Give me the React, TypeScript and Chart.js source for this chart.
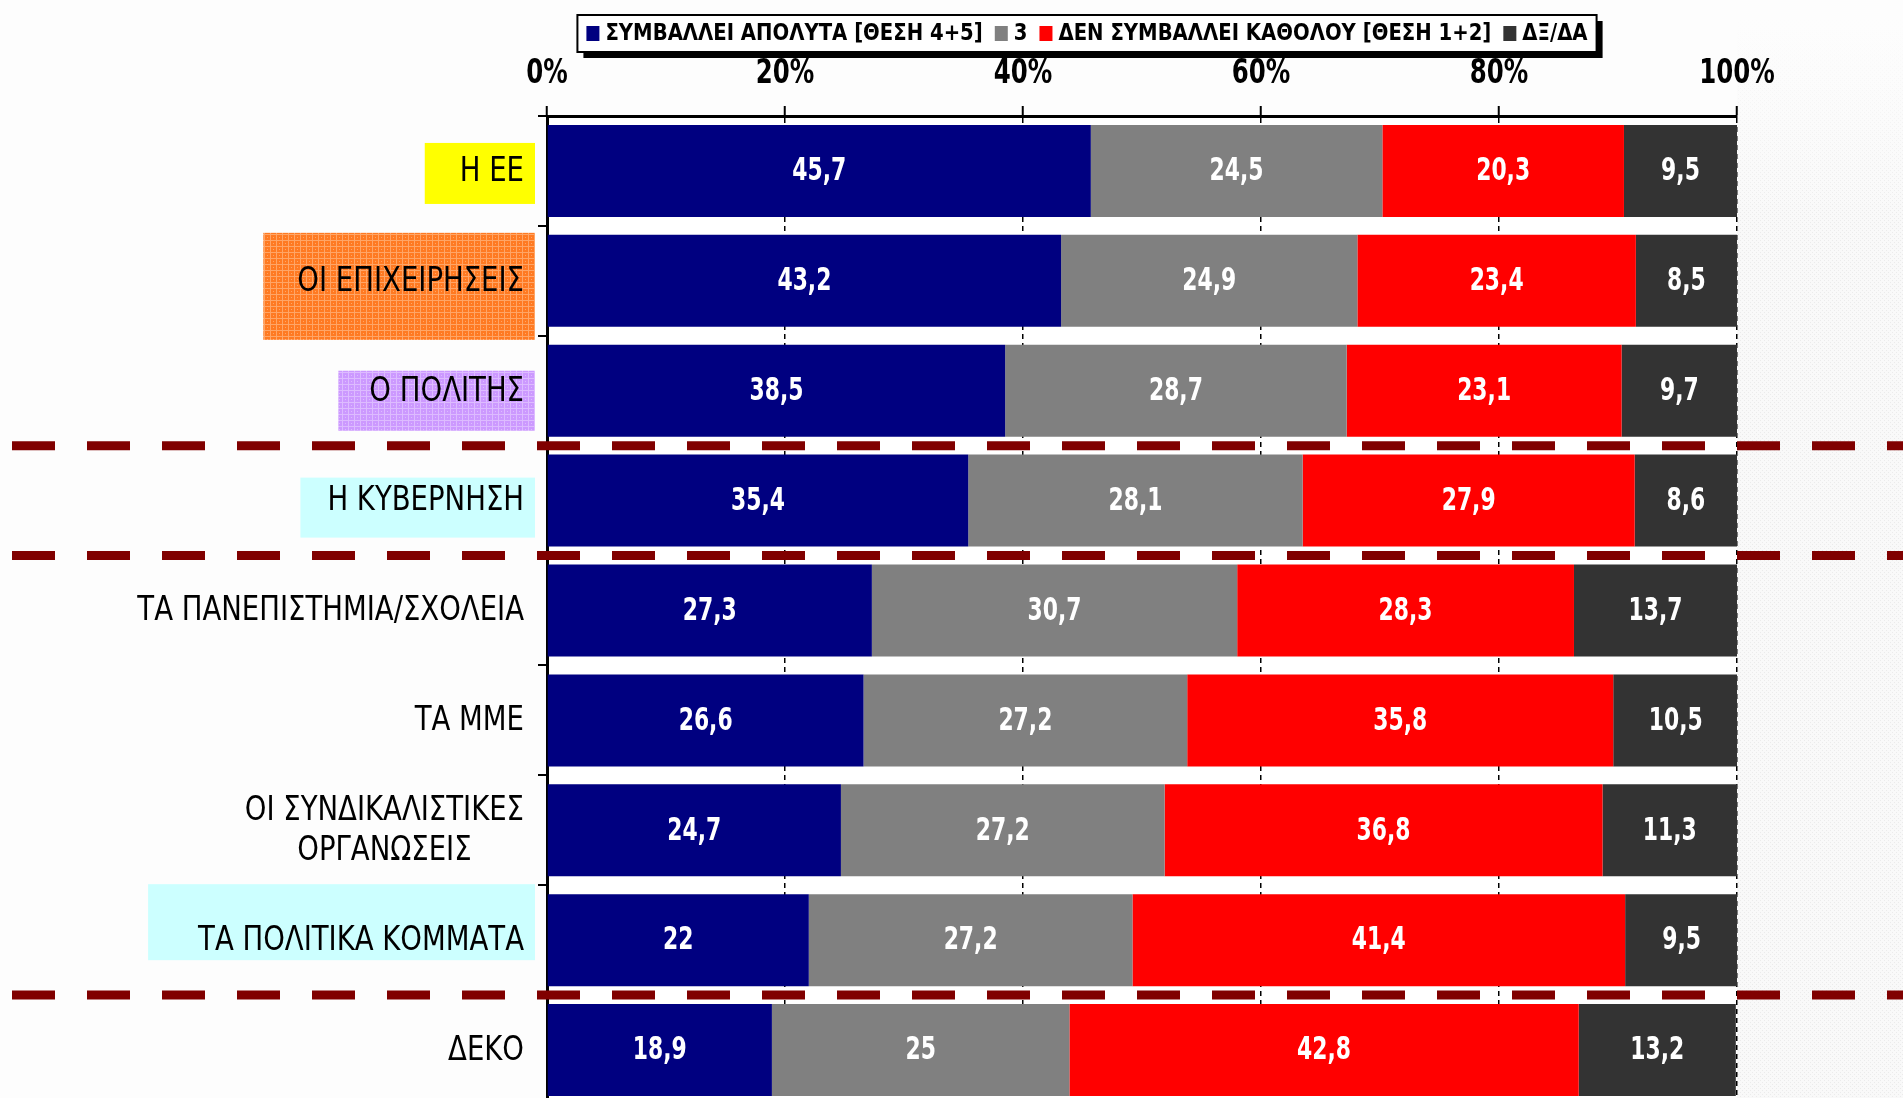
import { useEffect, useRef } from "react";
import { Chart, registerables } from "chart.js";

Chart.register(...registerables);

const FONT = "'DejaVu Sans Condensed', 'DejaVu Sans', sans-serif";

const categories: (string | string[])[] = [
  "Η ΕΕ",
  "ΟΙ ΕΠΙΧΕΙΡΗΣΕΙΣ",
  "Ο ΠΟΛΙΤΗΣ",
  "Η ΚΥΒΕΡΝΗΣΗ",
  "ΤΑ ΠΑΝΕΠΙΣΤΗΜΙΑ/ΣΧΟΛΕΙΑ",
  "ΤΑ ΜΜΕ",
  ["ΟΙ ΣΥΝΔΙΚΑΛΙΣΤΙΚΕΣ", "ΟΡΓΑΝΩΣΕΙΣ"],
  "ΤΑ ΠΟΛΙΤΙΚΑ ΚΟΜΜΑΤΑ",
  "ΔΕΚΟ",
];

const seriesNames = [
  "ΣΥΜΒΑΛΛΕΙ ΑΠΟΛΥΤΑ [ΘΕΣΗ 4+5]",
  "3",
  "ΔΕΝ ΣΥΜΒΑΛΛΕΙ ΚΑΘΟΛΟΥ [ΘΕΣΗ 1+2]",
  "ΔΞ/ΔΑ",
];

const contributesFully = [45.7, 43.2, 38.5, 35.4, 27.3, 26.6, 24.7, 22, 18.9];
const neutral = [24.5, 24.9, 28.7, 28.1, 30.7, 27.2, 27.2, 27.2, 25];
const notAtAll = [20.3, 23.4, 23.1, 27.9, 28.3, 35.8, 36.8, 41.4, 42.8];
const dontKnow = [9.5, 8.5, 9.7, 8.6, 13.7, 10.5, 11.3, 9.5, 13.2];

const xTicks = [0, 20, 40, 60, 80, 100];

// separators are drawn below these category indexes
const separatorsAfter = [2, 3, 7];

const seriesColors = ["#000080", "#808080", "#FF0000", "#333333"];

// highlight boxes behind some category labels
const labelBoxes: Record<number, { fill: string; grid?: string; padLeft: number; top: number; bottom: number }> = {
  0: { fill: "#FFFF00", padLeft: 35, top: -28, bottom: 33 },
  1: { fill: "#FF7A22", grid: "#FFA566", padLeft: 34, top: -48, bottom: 59 },
  2: { fill: "#CC99FF", grid: "#DDBBFF", padLeft: 31, top: -20, bottom: 40 },
  3: { fill: "#CCFFFF", padLeft: 27, top: -23, bottom: 37 },
  7: { fill: "#CCFFFF", padLeft: 50, top: -56, bottom: 20 },
};

// horizontal squeeze of the fonts (the original uses a narrow face)
const CAT_FONT = `34px ${FONT}`;
const CAT_SX = 0.9;
const VAL_FONT = `bold 32px ${FONT}`;
const VAL_SX = 0.76;
const TICK_FONT = `bold 34px ${FONT}`;
const TICK_SX = 0.8;
const LEG_FONT = `bold 23px ${FONT}`;
const LEG_SX = 0.95;

const squeezedText = (
  ctx: CanvasRenderingContext2D,
  text: string,
  x: number,
  y: number,
  align: CanvasTextAlign,
  sx: number
) => {
  ctx.save();
  ctx.translate(x, y);
  ctx.scale(sx, 1);
  ctx.textAlign = align;
  ctx.fillText(text, 0, 0);
  ctx.restore();
};

const makePattern = (ctx: CanvasRenderingContext2D, base: string, line: string) => {
  const c = document.createElement("canvas");
  c.width = 6;
  c.height = 6;
  const p = c.getContext("2d")!;
  p.fillStyle = base;
  p.fillRect(0, 0, 6, 6);
  p.fillStyle = line;
  p.fillRect(0, 0, 6, 1);
  p.fillRect(0, 0, 1, 6);
  p.fillRect(3, 3, 1, 1);
  return ctx.createPattern(c, "repeat") || base;
};

const backdropPlugin = {
  id: "backdrop",
  beforeDraw(chart: any) {
    const { ctx, chartArea, width, height } = chart;
    const y = chart.scales.y;
    ctx.save();
    ctx.fillStyle = "#FDFDFD";
    ctx.fillRect(0, 0, width, height);

    // faint texture on the right side
    const c = document.createElement("canvas");
    c.width = 4;
    c.height = 4;
    const p = c.getContext("2d")!;
    p.fillStyle = "#F9F9F9";
    p.fillRect(0, 0, 4, 4);
    p.fillStyle = "#EBEBEB";
    p.fillRect(0, 0, 1, 1);
    p.fillRect(2, 2, 1, 1);
    ctx.fillStyle = ctx.createPattern(c, "repeat");
    ctx.fillRect(chartArea.right, 0, width - chartArea.right, height);
    const fade = ctx.createLinearGradient(0, 20, 0, 220);
    fade.addColorStop(0, "rgba(253,253,253,1)");
    fade.addColorStop(1, "rgba(253,253,253,0)");
    ctx.fillStyle = fade;
    ctx.fillRect(chartArea.right, 0, width - chartArea.right, 220);

    ctx.fillStyle = "#FFFFFF";
    ctx.fillRect(chartArea.left, chartArea.top, chartArea.right - chartArea.left, chartArea.bottom - chartArea.top);

    ctx.font = CAT_FONT;
    const textRight = chartArea.left - 23;
    Object.keys(labelBoxes).forEach((k) => {
      const i = Number(k);
      const box = labelBoxes[i];
      const label = categories[i];
      const lines = Array.isArray(label) ? label : [label];
      const w = Math.max(...lines.map((l) => ctx.measureText(l).width)) * CAT_SX;
      const cy = y.getPixelForValue(i);
      const left = textRight - w - box.padLeft;
      const right = chartArea.left - 12;
      ctx.fillStyle = box.grid ? makePattern(ctx, box.fill, box.grid) : box.fill;
      ctx.fillRect(left, cy + box.top, right - left, box.bottom - box.top);
    });
    ctx.restore();
  },
};

const valueLabelsPlugin = {
  id: "valueLabels",
  afterDatasetsDraw(chart: any) {
    const { ctx } = chart;
    ctx.save();
    ctx.fillStyle = "#FFFFFF";
    ctx.font = VAL_FONT;
    ctx.textBaseline = "middle";
    chart.data.datasets.forEach((ds: any, di: number) => {
      const meta = chart.getDatasetMeta(di);
      meta.data.forEach((el: any, i: number) => {
        const { x, y, base } = el.getProps(["x", "y", "base"], true);
        const v = ds.data[i];
        squeezedText(ctx, String(v).replace(".", ","), (x + base) / 2, y + 1, "center", VAL_SX);
      });
    });
    ctx.restore();
  },
};

const overlayPlugin = {
  id: "overlay",
  afterDraw(chart: any) {
    const { ctx, chartArea, width } = chart;
    const y = chart.scales.y;
    const x = chart.scales.x;
    ctx.save();
    ctx.fillStyle = "#000000";
    ctx.textBaseline = "middle";

    // x tick labels
    ctx.font = TICK_FONT;
    xTicks.forEach((v) => {
      squeezedText(ctx, v + "%", x.getPixelForValue(v), 74, "center", TICK_SX);
    });

    // category labels
    ctx.font = CAT_FONT;
    const textRight = chartArea.left - 23;
    categories.forEach((label, i) => {
      const lines = Array.isArray(label) ? label : [label];
      const w = Math.max(...lines.map((l) => ctx.measureText(l).width)) * CAT_SX;
      const cx = textRight - w / 2;
      const cy = y.getPixelForValue(i);
      const lh = 40;
      lines.forEach((l, li) => {
        squeezedText(ctx, l, cx, cy + (li - (lines.length - 1) / 2) * lh + 1, "center", CAT_SX);
      });
    });

    // dashed separators
    ctx.strokeStyle = "#800000";
    ctx.lineWidth = 9;
    ctx.setLineDash([43, 32]);
    separatorsAfter.forEach((i) => {
      const py = (y.getPixelForValue(i) + y.getPixelForValue(i + 1)) / 2;
      ctx.beginPath();
      ctx.moveTo(12, py);
      ctx.lineTo(width, py);
      ctx.stroke();
    });
    ctx.setLineDash([]);

    // legend box
    ctx.font = LEG_FONT;
    const items = chart.data.datasets.map((d: any) => ({
      label: d.label,
      color: d.backgroundColor,
      w: ctx.measureText(d.label).width * LEG_SX,
    }));
    const mW = 13;
    const mH = 15;
    const gapText = 6;
    const gapItem = 12;
    const pad = 9;
    const total =
      pad * 2 +
      items.reduce((s: number, it: any) => s + mW + gapText + it.w, 0) +
      gapItem * (items.length - 1);
    const left = 1087 - total / 2;
    const top = 15;
    const h = 37;
    ctx.fillStyle = "#000000";
    ctx.fillRect(left + 6, top + 6, total, h);
    ctx.fillStyle = "#FFFFFF";
    ctx.fillRect(left, top, total, h);
    ctx.lineWidth = 2;
    ctx.strokeStyle = "#000000";
    ctx.strokeRect(left, top, total, h);
    let lx = left + pad;
    const cy = top + h / 2;
    items.forEach((it: any) => {
      ctx.fillStyle = it.color;
      ctx.fillRect(lx, cy - mH / 2, mW, mH);
      lx += mW + gapText;
      ctx.fillStyle = "#000000";
      squeezedText(ctx, it.label, lx, cy + 1, "left", LEG_SX);
      lx += it.w + gapItem;
    });
    ctx.restore();
  },
};

const App = () => {
  const canvasRef = useRef<HTMLCanvasElement | null>(null);
  const chartRef = useRef<Chart | null>(null);

  useEffect(() => {
    if (!canvasRef.current) return;
    if (chartRef.current) chartRef.current.destroy();

    const series = [contributesFully, neutral, notAtAll, dontKnow];

    chartRef.current = new Chart(canvasRef.current, {
      type: "bar",
      data: {
        labels: categories,
        datasets: series.map((data, i) => ({
          label: seriesNames[i],
          data,
          backgroundColor: seriesColors[i],
          borderWidth: 0,
          barPercentage: 0.837,
          categoryPercentage: 1,
        })),
      },
      options: {
        indexAxis: "y",
        responsive: true,
        maintainAspectRatio: false,
        animation: false,
        layout: { padding: { left: 0, right: 166, top: 0, bottom: 0 } },
        plugins: {
          legend: { display: false },
          tooltip: { enabled: false },
        },
        scales: {
          x: {
            position: "top",
            stacked: true,
            min: 0,
            max: 100,
            afterBuildTicks: (s: any) => {
              s.ticks = xTicks.map((v) => ({ value: v }));
            },
            ticks: { display: false },
            grid: {
              color: "#000000",
              lineWidth: 1.5,
              tickLength: 10,
              tickColor: "#000000",
              tickWidth: 2,
            },
            border: { display: true, color: "#000000", width: 3, dash: [5, 4] },
            afterFit: (s: any) => {
              s.height = 116;
            },
          },
          y: {
            stacked: true,
            ticks: { display: false },
            grid: {
              drawOnChartArea: false,
              color: "#000000",
              lineWidth: 2,
              tickLength: 9,
              offset: true,
            },
            border: { display: true, color: "#000000", width: 3 },
            afterFit: (s: any) => {
              s.width = 547;
            },
          },
        },
      } as any,
      plugins: [backdropPlugin, valueLabelsPlugin, overlayPlugin],
    });

    return () => {
      if (chartRef.current) {
        chartRef.current.destroy();
        chartRef.current = null;
      }
    };
  }, []);

  return (
    <div style={{ position: "fixed", left: 0, top: 0, width: 1903, height: 1098, overflow: "hidden", background: "#FDFDFD" }}>
      <div style={{ position: "relative", width: 1903, height: 1105 }}>
        <canvas ref={canvasRef} />
      </div>
    </div>
  );
};

export default App;
